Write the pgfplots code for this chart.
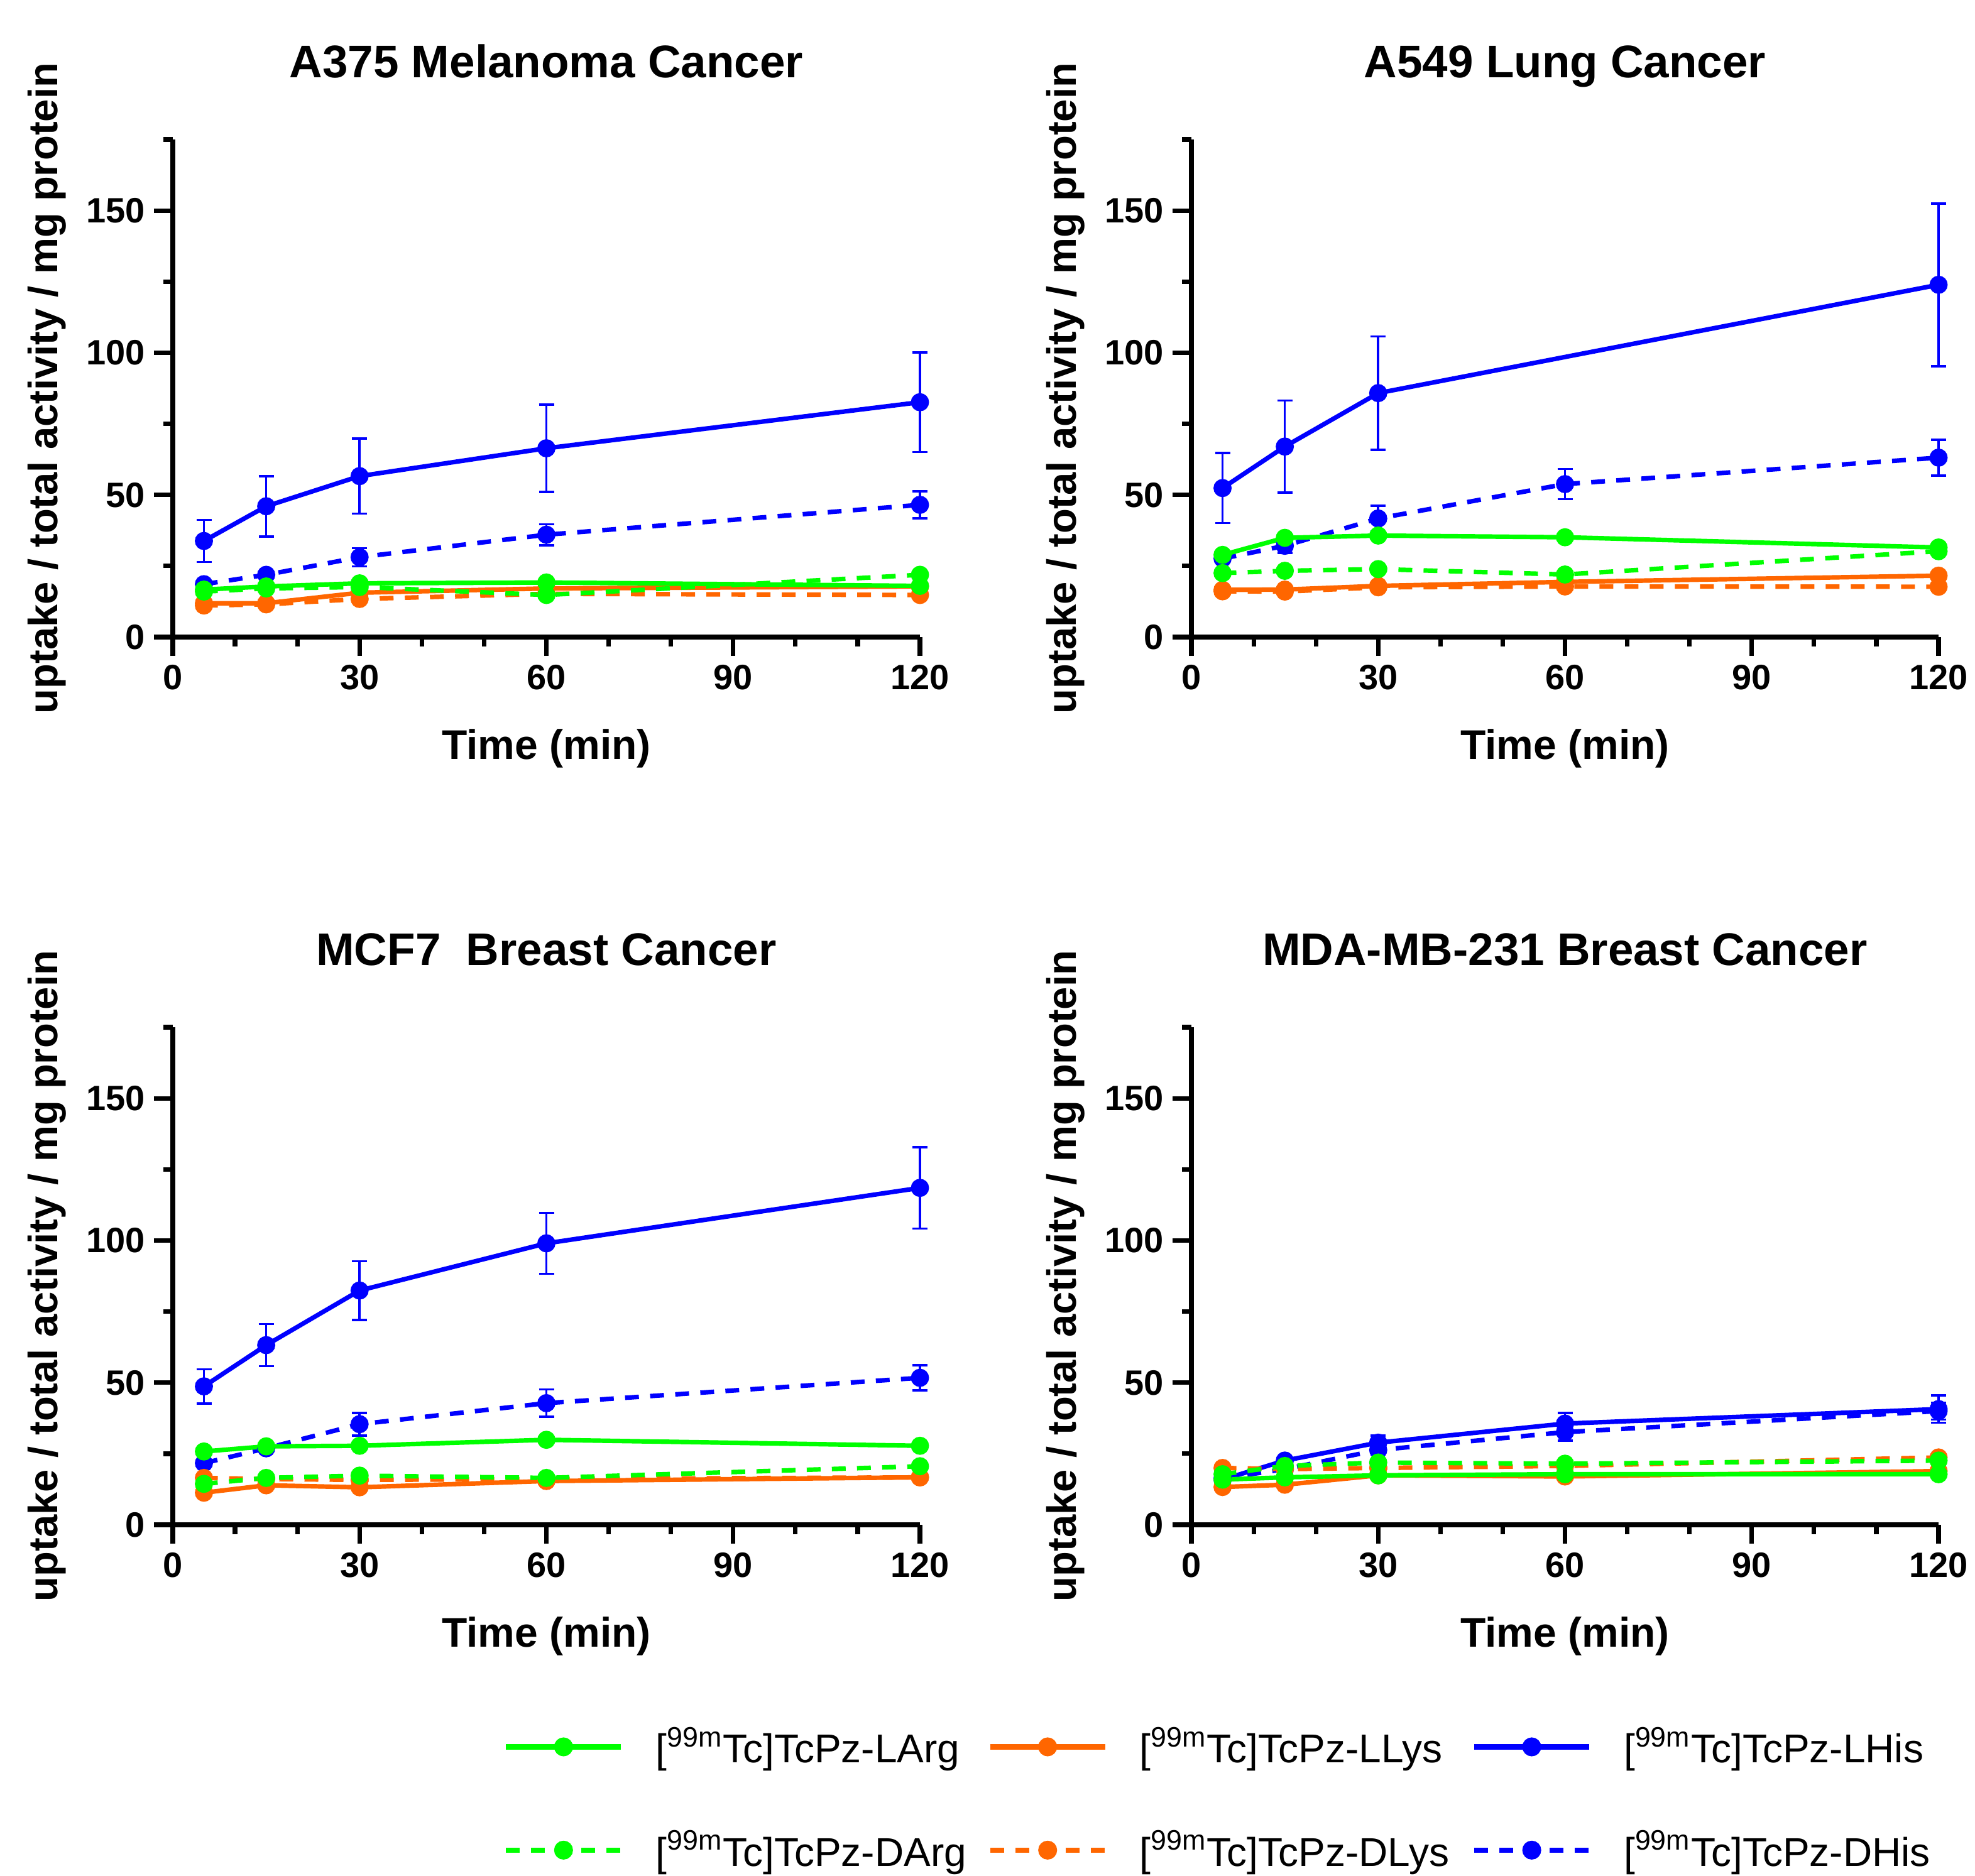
\documentclass[border=0pt]{standalone}
\usepackage{fontspec}
\setmainfont{Liberation Sans}
\usepackage{pgfplots}
\pgfplotsset{compat=1.18}

\definecolor{cgreen}{RGB}{0,255,0}
\definecolor{corange}{RGB}{255,102,0}
\definecolor{cblue}{RGB}{0,0,255}

\newcommand{\LE}[1]{\makebox[132pt][l]{\rule[-4pt]{0pt}{18pt}[\textsuperscript{99m}Tc]TcPz-#1}}

\pgfplotsset{
  panel/.style={
    scale only axis, width=297.25pt, height=198pt,
    xmin=0, xmax=120, ymin=0, ymax=175,
    axis lines=left,
    axis line style={line width=1.9pt, -},
    xtick={0,30,60,90,120}, minor x tick num=2,
    ytick={0,50,100,150}, minor ytick={25,75,125,175},
    tick align=outside,
    major tick length=7.5pt, minor tick length=3.75pt,
    tick style={line width=1.8pt, black},
    /pgf/number format/assume math mode=true,
    tick label style={font=\bfseries\fontsize{14}{14}\selectfont},
    title style={font=\bfseries\fontsize{18.2}{20}\selectfont,
      at={(axis description cs:0.5,1)}, anchor=base, yshift=18.75pt},
    xlabel={Time (min)},
    ylabel={uptake / total activity / mg protein},
    xlabel style={font=\bfseries\fontsize{16.5}{18}\selectfont,
      at={(axis description cs:0.5,-0.245)}, anchor=base},
    ylabel style={font=\bfseries\fontsize{16.3}{18}\selectfont,
      at={(axis description cs:-0.154,0.5)}, anchor=base},
    clip=false,
  },
  larg/.style={cgreen, line width=1.8pt, mark=*, mark size=2.7pt, solid},
  llys/.style={corange, line width=1.8pt, mark=*, mark size=2.7pt, solid},
  lhis/.style={cblue, line width=1.8pt, mark=*, mark size=2.7pt, solid},
  darg/.style={cgreen, line width=1.8pt, mark=*, mark size=2.7pt, dash pattern=on 5.5pt off 4.5pt, mark options={solid}},
  dlys/.style={corange, line width=1.8pt, mark=*, mark size=2.7pt, dash pattern=on 5.5pt off 4.5pt, mark options={solid}},
  dhis/.style={cblue, line width=1.8pt, mark=*, mark size=2.7pt, dash pattern=on 5.5pt off 4.5pt, mark options={solid}},
  err/.style={/pgfplots/error bars/y dir=both, /pgfplots/error bars/y explicit,
    /pgfplots/error bars/error bar style={solid, line width=0.9pt},
    /pgfplots/error bars/error mark options={rotate=90, mark size=3pt, line width=0.9pt, solid}},
}

\begin{document}
\begin{tikzpicture}
\useasboundingbox (0,0) rectangle (785.75pt,-746.25pt);

% A375
\begin{axis}[panel, at={(68.75pt,-253.5pt)}, anchor=south west, title={A375 Melanoma Cancer}]
\addplot[dhis, err] coordinates {(5,18.6) +- (0,1.0) (15,21.9) +- (0,1.2) (30,28.1) +- (0,3.2) (60,36.0) +- (0,3.7) (120,46.5) +- (0,4.7)};
\addplot[lhis, err] coordinates {(5,33.8) +- (0,7.4) (15,46.0) +- (0,10.6) (30,56.6) +- (0,13.2) (60,66.4) +- (0,15.4) (120,82.6) +- (0,17.5)};
\addplot[dlys] coordinates {(5,11.1) (15,11.5) (30,13.4) (60,15.2) (120,14.8)};
\addplot[llys] coordinates {(5,11.9) (15,11.9) (30,15.6) (60,17.1) (120,17.8)};
\addplot[darg] coordinates {(5,16.0) (15,17.1) (30,17.6) (60,14.8) (120,21.9)};
\addplot[larg] coordinates {(5,16.7) (15,17.8) (30,18.9) (60,19.2) (120,18.0)};
\end{axis}

% A549
\begin{axis}[panel, at={(474pt,-253.5pt)}, anchor=south west, title={A549 Lung Cancer}]
\addplot[dhis, err] coordinates {(5,27.6) +- (0,1.0) (15,32.1) +- (0,2.5) (30,41.7) +- (0,4.5) (60,53.8) +- (0,5.3) (120,63.1) +- (0,6.3)};
\addplot[lhis, err] coordinates {(5,52.4) +- (0,12.3) (15,67.0) +- (0,16.2) (30,85.8) +- (0,19.9) (120,123.9) +- (0,28.6)};
\addplot[dlys] coordinates {(5,16.1) (15,16.0) (30,17.5) (60,17.8) (120,17.7)};
\addplot[llys] coordinates {(5,16.6) (15,16.7) (30,18.0) (60,19.4) (120,21.6)};
\addplot[darg] coordinates {(5,22.5) (15,23.3) (30,23.9) (60,22.0) (120,30.2)};
\addplot[larg] coordinates {(5,28.9) (15,34.9) (30,35.7) (60,35.1) (120,31.5)};
\end{axis}

% MCF7
\begin{axis}[panel, at={(68.75pt,-606.75pt)}, anchor=south west, title={MCF7\ \ Breast Cancer},
  legend columns=3,
  legend cell align=left,
  legend style={draw=none, fill=none, inner sep=0pt, outer sep=0pt,
    at={(axis description cs:0.4424,-0.550)}, anchor=west,
    font=\fontsize{16}{16}\selectfont,
    nodes={inner sep=0pt},
    row sep=25.5pt,
    /tikz/every odd column/.append style={column sep=12.75pt},
    /tikz/every even column/.append style={column sep=0pt}},
  legend image code/.code={\draw[mark repeat=2, mark phase=2, line width=2.1pt, #1] plot coordinates {(0pt,0pt) (22.9pt,0pt) (45.75pt,0pt)};},
]
\addlegendimage{larg}\addlegendentry{\LE{LArg}}
\addlegendimage{llys}\addlegendentry{\LE{LLys}}
\addlegendimage{lhis}\addlegendentry{\LE{LHis}}
\addlegendimage{darg}\addlegendentry{\LE{DArg}}
\addlegendimage{dlys}\addlegendentry{\LE{DLys}}
\addlegendimage{dhis}\addlegendentry{\LE{DHis}}
\addplot[dhis, forget plot, err] coordinates {(5,21.7) +- (0,1.0) (15,26.9) +- (0,1.0) (30,35.4) +- (0,4.0) (60,42.8) +- (0,4.8) (120,51.7) +- (0,4.4)};
\addplot[lhis, forget plot, err] coordinates {(5,48.7) +- (0,6.0) (15,63.2) +- (0,7.4) (30,82.4) +- (0,10.3) (60,99.0) +- (0,10.7) (120,118.5) +- (0,14.3)};
\addplot[dlys, forget plot] coordinates {(5,16.5) (15,16.1) (30,15.8) (60,16.1) (120,16.7)};
\addplot[llys, forget plot] coordinates {(5,11.3) (15,13.9) (30,13.2) (60,15.4) (120,16.7)};
\addplot[darg, forget plot] coordinates {(5,14.4) (15,16.5) (30,17.3) (60,16.5) (120,20.6)};
\addplot[larg, forget plot] coordinates {(5,25.8) (15,27.6) (30,27.8) (60,29.9) (120,27.8)};
\end{axis}

% MDA-MB-231
\begin{axis}[panel, at={(474pt,-606.75pt)}, anchor=south west, title={MDA-MB-231 Breast Cancer}]
\addplot[dhis, err] coordinates {(5,16.3) +- (0,1.0) (15,19.6) +- (0,1.0) (30,26.3) +- (0,1.5) (60,32.6) +- (0,3.0) (120,40.0) +- (0,3.0)};
\addplot[lhis, err] coordinates {(5,15.9) +- (0,1.0) (15,22.6) +- (0,1.0) (30,28.9) +- (0,2.5) (60,35.6) +- (0,3.7) (120,40.7) +- (0,4.8)};
\addplot[dlys] coordinates {(5,20.0) (15,19.6) (30,20.0) (60,20.7) (120,23.7)};
\addplot[llys] coordinates {(5,13.3) (15,14.1) (30,17.4) (60,17.0) (120,18.9)};
\addplot[darg] coordinates {(5,17.8) (15,20.7) (30,21.9) (60,21.5) (120,22.6)};
\addplot[larg] coordinates {(5,15.9) (15,16.7) (30,17.4) (60,17.8) (120,17.8)};
\end{axis}
\end{tikzpicture}
\end{document}
